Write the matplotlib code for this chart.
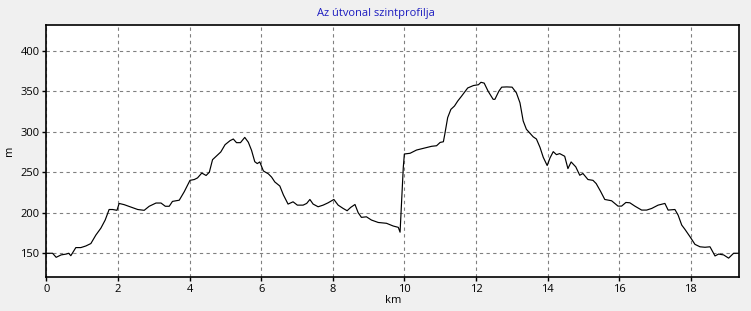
import matplotlib
matplotlib.use("Agg")
import matplotlib.pyplot as plt

# route profile
km = [0.0, 0.17, 0.27, 0.41, 0.55, 0.62, 0.68, 0.82, 0.96, 1.10, 1.24, 1.38,
      1.52, 1.64, 1.75, 1.85, 1.97, 2.03, 2.17, 2.36, 2.55, 2.73, 2.87, 3.06,
      3.20, 3.32, 3.43, 3.52, 3.71, 3.85, 4.01, 4.13, 4.22, 4.34, 4.46, 4.55,
      4.64, 4.75, 4.87, 4.99, 5.13, 5.22, 5.31, 5.42, 5.54, 5.64, 5.73, 5.82,
      5.89, 5.96, 6.06, 6.20, 6.29, 6.38, 6.52, 6.62, 6.75, 6.89, 7.01, 7.17,
      7.27, 7.36, 7.45, 7.59, 7.73, 7.87, 8.03, 8.15, 8.29, 8.40, 8.50, 8.62,
      8.71, 8.80, 8.94, 9.08, 9.27, 9.50, 9.69, 9.83, 9.88, 9.93, 9.97, 10.0,
      10.16, 10.34, 10.58, 10.76, 10.90, 11.0, 11.09, 11.13, 11.21, 11.30,
      11.40, 11.49, 11.60, 11.77, 11.93, 12.07, 12.14, 12.23, 12.34, 12.48,
      12.53, 12.64, 12.72, 12.86, 13.01, 13.13, 13.23, 13.32, 13.41, 13.51,
      13.60, 13.69, 13.79, 13.88, 13.99, 14.07, 14.16, 14.25, 14.34, 14.48,
      14.57, 14.66, 14.79, 14.90, 14.99, 15.13, 15.27, 15.36, 15.48, 15.60,
      15.79, 15.97, 16.07, 16.19, 16.30, 16.44, 16.63, 16.77, 16.91, 17.09,
      17.28, 17.37, 17.56, 17.65, 17.75, 17.84, 17.98, 18.12, 18.26, 18.40,
      18.54, 18.68, 18.78, 18.92, 19.06, 19.20, 19.34]
elev = [150, 150, 145, 148, 149, 150, 147, 157, 157, 159, 162, 172.5,
        181, 191, 204, 204, 203, 211.5, 210, 207, 204, 203, 208, 212,
        212, 208, 208, 214, 215.5, 226, 240, 241, 243, 249, 246, 250,
        265.5, 270, 275, 284, 289, 291, 286.5, 286.5, 293, 287, 277, 263,
        260.7, 262.7, 251.6, 248, 244, 238, 233, 222, 210.7, 213.5, 209.4, 209.4,
        211.5, 216.4, 210.7, 207.4, 209.4, 212.3, 216.4, 209.4, 205.3, 202.5, 206.6, 210.2,
        200, 194.3, 195, 191, 188, 187, 183.6, 182, 176, 219.5, 256, 272.5,
        273.4, 277.4, 280, 282, 282.7, 286.8, 287.6, 297, 317.4, 327.6,
        331.7, 337.8, 344, 354, 357, 358, 361, 360, 350, 340,
        340, 350, 355, 355.3, 355, 348, 335.7, 313.3, 303, 298,
        293.7, 291, 280.7, 268.5, 258.3, 267.7, 275.4, 271.7, 273, 269.7,
        254.5, 262.7, 256.6, 246.3, 248.4, 241, 240, 236, 226.6, 216.4,
        214.8, 208.2, 208.2, 212.7, 212.3, 208.2, 203.3, 203.3, 205.3, 209.4,
        211.5, 203.3, 204, 197, 184.8, 179.5, 170.5, 161, 158, 157.4,
        158, 146.7, 149, 148, 144, 150, 150]

x_ticks = [0, 2, 4, 6, 8, 10, 12, 14, 16, 18]
y_ticks = [150, 200, 250, 300, 350, 400]

plt.rcParams["font.family"] = ["Open Sans", "DejaVu Sans"]

fig = plt.figure(figsize=(7.51, 3.11), dpi=100, facecolor="#f0f0f0")
ax = fig.add_axes([0.0619, 0.1093, 0.9221, 0.8103])
ax.set_facecolor("white")

ax.plot(km, elev, color="black", linewidth=0.85)

ax.set_xlim(0, 19.35)
ax.set_ylim(120.7, 431.7)
ax.set_xticks(x_ticks)
ax.set_yticks(y_ticks)
ax.tick_params(labelsize=8, length=3, width=1, color="black", pad=2)
ax.grid(True, color="#808080", linestyle=(0, (3, 3)), linewidth=0.8)
for s in ax.spines.values():
    s.set_linewidth(1.2)
    s.set_color("black")

ax.set_xlabel("km", fontsize=8, labelpad=0)
ax.set_ylabel("m", fontsize=8, labelpad=4)
fig.text(0.5, 0.955, "Az útvonal szintprofilja", ha="center", va="center",
         fontsize=8, color="#1c1cc0")

fig.savefig("out.png", dpi=100, facecolor=fig.get_facecolor())
